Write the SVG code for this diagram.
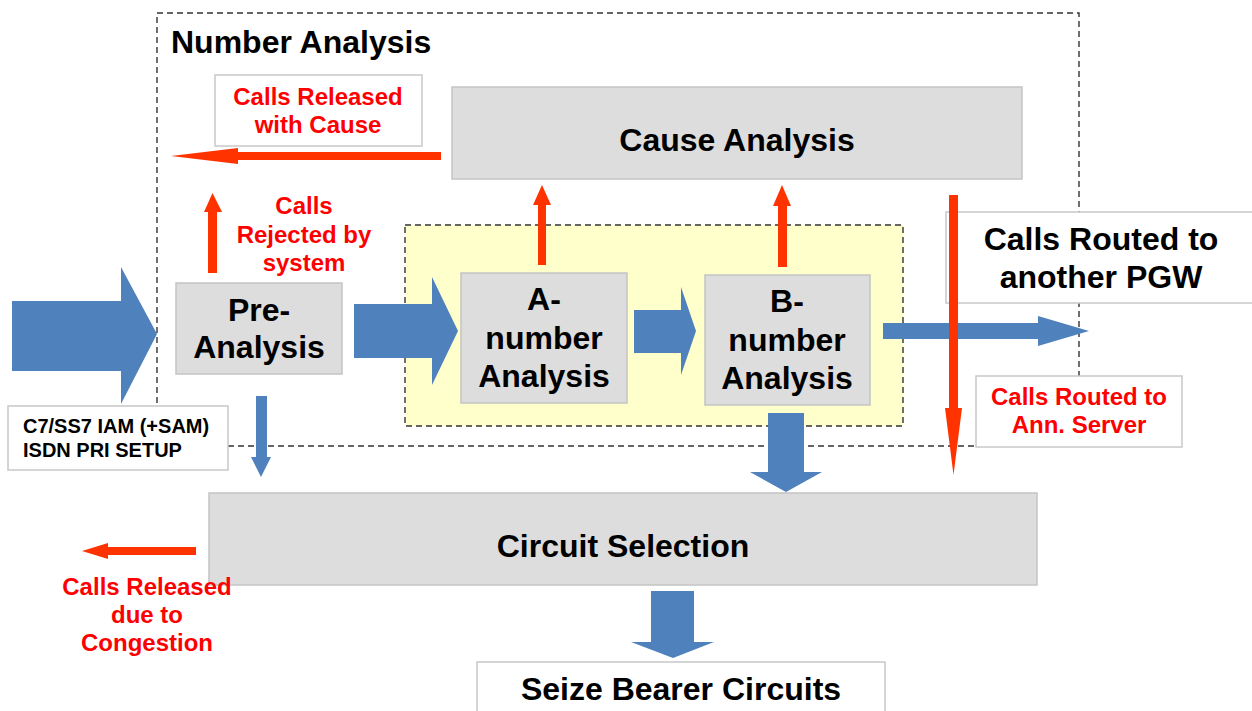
<svg xmlns="http://www.w3.org/2000/svg" width="1252" height="711" viewBox="0 0 1252 711">
<style>
.dash{fill:none;stroke:#333;stroke-width:1.4;stroke-dasharray:6,4}
.box{fill:#dddddd;stroke:#c4c4c4;stroke-width:1.5}
.lbl{fill:#fff;stroke:#c8c8c8;stroke-width:1.5}
.t{font-family:"Liberation Sans",Arial,sans-serif;font-weight:bold;font-size:32px;fill:#000;text-anchor:middle}
.r{font-family:"Liberation Sans",Arial,sans-serif;font-weight:bold;font-size:24px;fill:#ff0000;text-anchor:middle}
.s{font-family:"Liberation Sans",Arial,sans-serif;font-weight:bold;font-size:20px;fill:#000}
.blue{fill:#4f81bd}
.red{fill:#ff3300}
</style>
<rect width="1252" height="711" fill="#fff"/>
<g id="number-analysis">
<rect class="dash" x="157" y="13" width="922" height="433"/>
<text class="t" x="171" y="53" style="text-anchor:start">Number Analysis</text>
</g>
<g id="ab-group">
<rect x="405" y="225" width="498" height="201" fill="#ffffcc" stroke="#333" stroke-width="1.4" stroke-dasharray="6,4"/>
</g>
<g id="cause-analysis">
<rect class="box" x="452" y="87" width="570" height="92"/>
<text class="t" x="737" y="151">Cause Analysis</text>
</g>
<g id="pre-analysis">
<rect class="box" x="176" y="283" width="166" height="91"/>
<text class="t" x="259" y="321">Pre-</text>
<text class="t" x="259" y="358">Analysis</text>
</g>
<g id="a-number">
<rect class="box" x="461" y="273" width="166" height="130"/>
<text class="t" x="544" y="310">A-</text>
<text class="t" x="544" y="349">number</text>
<text class="t" x="544" y="387">Analysis</text>
</g>
<g id="b-number">
<rect class="box" x="705" y="275" width="165" height="130"/>
<text class="t" x="787" y="312">B-</text>
<text class="t" x="787" y="351">number</text>
<text class="t" x="787" y="389">Analysis</text>
</g>
<g id="circuit-selection">
<rect class="box" x="209" y="493" width="828" height="92"/>
<text class="t" x="623" y="557">Circuit Selection</text>
</g>
<g id="seize-bearer">
<rect class="lbl" x="477" y="662" width="408" height="60"/>
<text class="t" x="681" y="700">Seize Bearer Circuits</text>
</g>
<g id="released-cause">
<rect class="lbl" x="215" y="75" width="207" height="71"/>
<text class="r" x="318" y="105">Calls Released</text>
<text class="r" x="318" y="133">with Cause</text>
</g>
<g id="rejected">
<text class="r" x="304" y="214">Calls</text>
<text class="r" x="304" y="243">Rejected by</text>
<text class="r" x="304" y="271">system</text>
</g>
<g id="routed-pgw">
<rect class="lbl" x="946" y="212" width="310" height="91"/>
<text class="t" x="1101" y="250">Calls Routed to</text>
<text class="t" x="1101" y="288">another PGW</text>
</g>
<g id="routed-ann">
<rect class="lbl" x="976" y="376" width="206" height="71"/>
<text class="r" x="1079" y="405">Calls Routed to</text>
<text class="r" x="1079" y="433">Ann. Server</text>
</g>
<g id="c7-input">
<rect class="lbl" x="8" y="406" width="220" height="64"/>
<text class="s" x="23" y="433">C7/SS7 IAM (+SAM)</text>
<text class="s" x="23" y="457">ISDN PRI SETUP</text>
</g>
<g id="released-congestion">
<text class="r" x="147" y="595">Calls Released</text>
<text class="r" x="147" y="623">due to</text>
<text class="r" x="147" y="651">Congestion</text>
</g>
<g id="connectors">
<polygon class="blue" points="12,301 121,301 121,267 157,334 121,404 121,371 12,371"/>
<polygon class="blue" points="354,304 432,304 432,277 458,331 432,385 432,358 354,358"/>
<polygon class="blue" points="634,310 681,310 681,287 696,331 681,375 681,353 634,353"/>
<polygon class="blue" points="883,323 1038,323 1038,316 1089,331 1038,346 1038,339 883,339"/>
<polygon class="blue" points="256,396 267,396 267,457 271,457 261,477 251,457 256,457"/>
<polygon class="blue" points="768,413 804,413 804,472 822,472 786,492 750,472 768,472"/>
<polygon class="blue" points="651,591 694,591 694,642 714,642 673,658 631,642 651,642"/>
<polygon class="red" points="441,152 441,160 238,160 238,164 171,156 238,148 238,152"/>
<polygon class="red" points="208,273 217,273 217,212 222,212 212.5,193 204,212 208,212"/>
<polygon class="red" points="538,265 546,265 546,205 551,205 542,185 533,205 538,205"/>
<polygon class="red" points="778,267 787,267 787,206 791,206 782,185 773,206 778,206"/>
<polygon class="red" points="949,195 958,195 958,408 962,408 953.5,475 945,408 949,408"/>
<polygon class="red" points="196,547 196,555 108,555 108,559 82,551 108,543 108,547"/>
</g>
</svg>
